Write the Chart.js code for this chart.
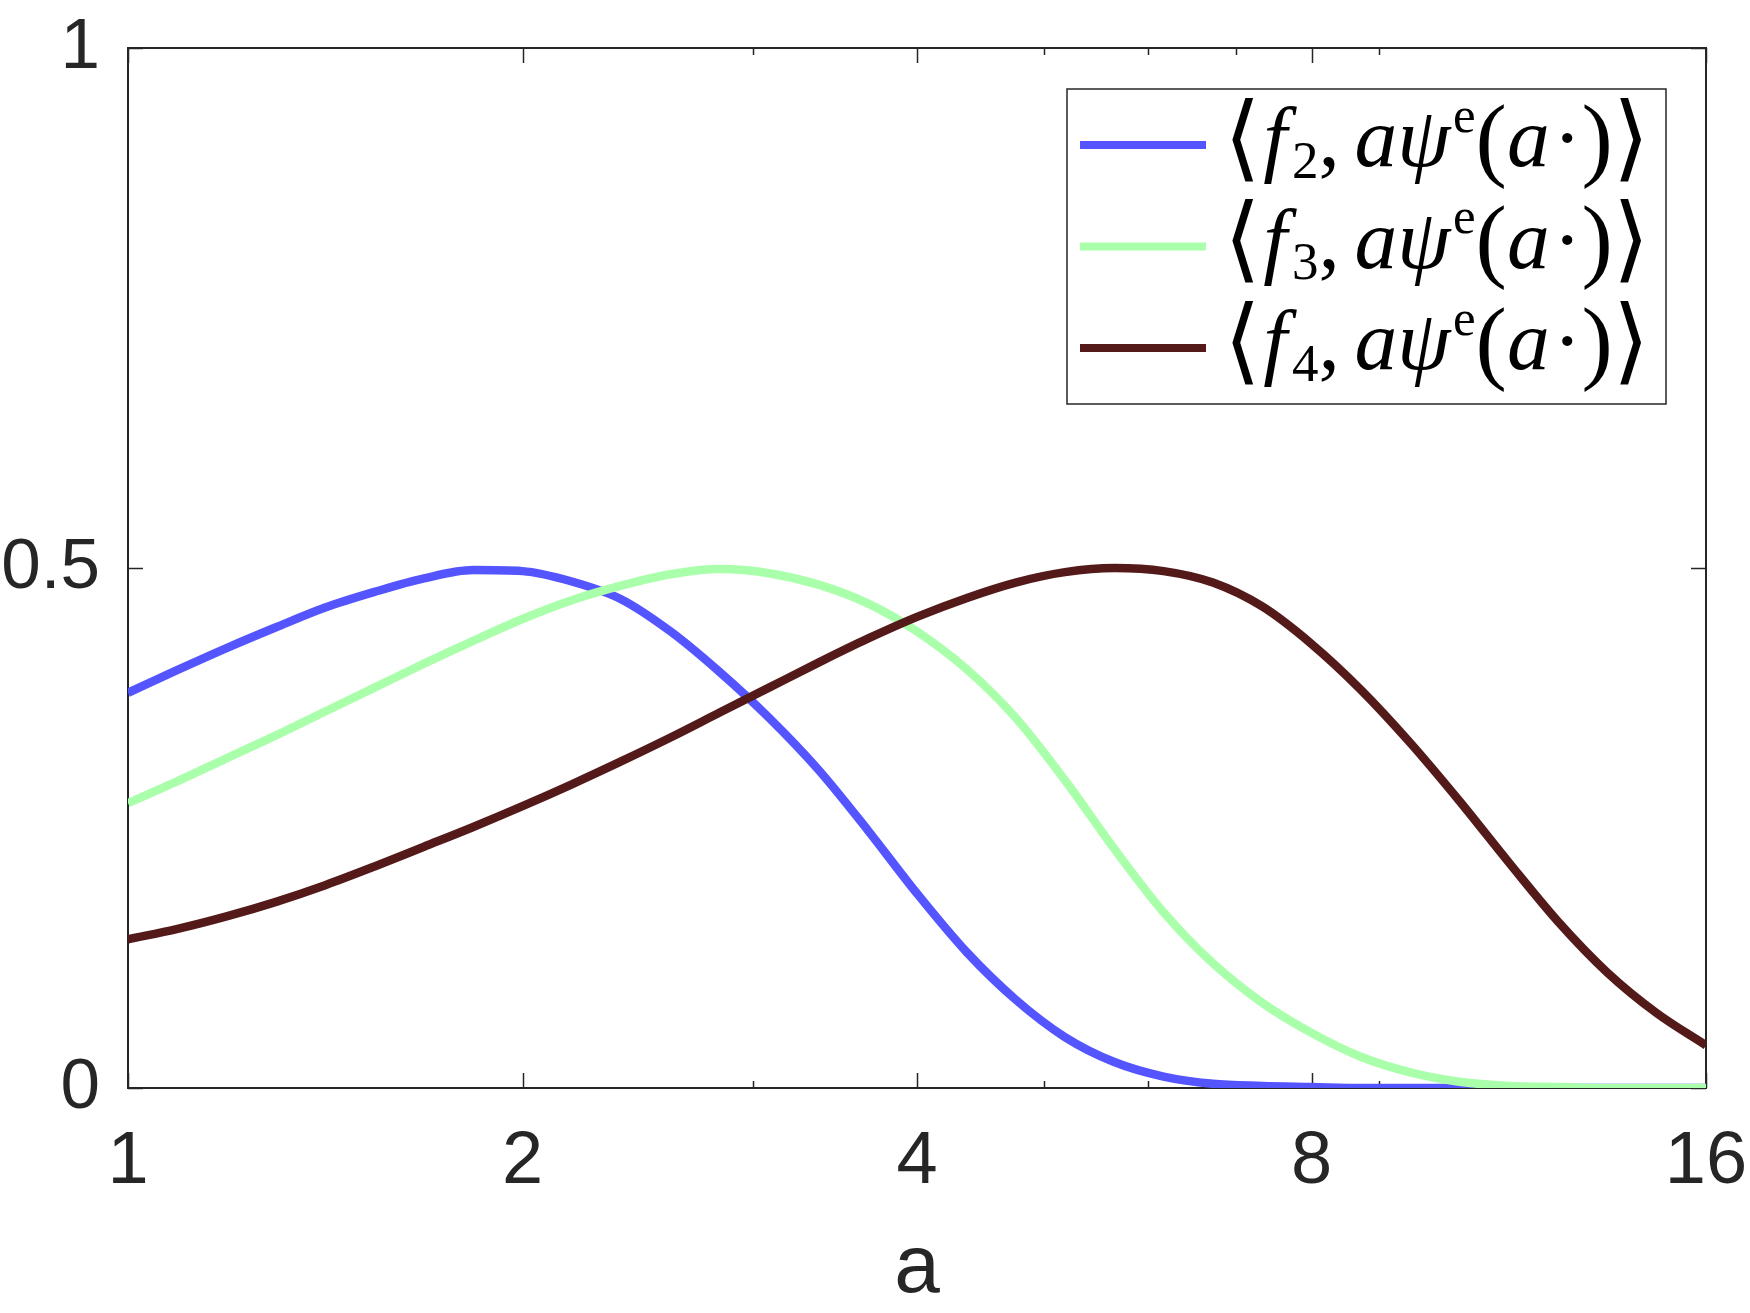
<!DOCTYPE html>
<html>
<head>
<meta charset="utf-8">
<script src="https://cdn.jsdelivr.net/npm/chart.js@4.4.0/dist/chart.umd.min.js"></script>
<style>
  html, body { margin: 0; padding: 0; background: #fff; }
  #wrap { width: 1750px; height: 1313px; }
</style>
</head>
<body>
<div id="wrap"><canvas id="myChart" width="1750" height="1313"></canvas></div>
<script>
// scale a, spaced 2^(k/8) from 1 to 16
var aValues = [1, 1.091, 1.189, 1.297, 1.414, 1.542, 1.682, 1.834, 2, 2.181, 2.378, 2.594, 2.828, 3.084, 3.364, 3.668,
    4, 4.362, 4.757, 5.187, 5.657, 6.169, 6.727, 7.336, 8, 8.724, 9.514, 10.375, 11.314, 12.338, 13.454, 14.672, 16];

// values
var f2Values = [0.380, 0.402, 0.423, 0.443, 0.462, 0.477, 0.490, 0.498, 0.497, 0.487, 0.470, 0.439, 0.400, 0.356, 0.306, 0.248,
    0.187, 0.131, 0.085, 0.049, 0.025, 0.011, 0.004, 0.002, 0.001, 0, 0, 0, 0, 0, 0, 0, 0];
var f3Values = [0.274, 0.295, 0.317, 0.339, 0.362, 0.385, 0.408, 0.430, 0.451, 0.469, 0.483, 0.494, 0.499, 0.495, 0.484, 0.466,
    0.439, 0.403, 0.356, 0.296, 0.230, 0.169, 0.120, 0.082, 0.053, 0.030, 0.015, 0.006, 0.002, 0.001, 0, 0, 0];
var f4Values = [0.143, 0.153, 0.165, 0.179, 0.195, 0.213, 0.232, 0.251, 0.271, 0.292, 0.314, 0.337, 0.361, 0.385, 0.409, 0.432,
    0.453, 0.471, 0.486, 0.496, 0.500, 0.497, 0.486, 0.463, 0.427, 0.383, 0.332, 0.276, 0.217, 0.160, 0.111, 0.072, 0.041];

var xTicks = [1, 2, 4, 8, 16];
var xMinorTicks = [3, 5, 6, 7, 9];
var yTicks = [0, 0.5, 1];
var seriesIndex = ['2', '3', '4'];

var axisColor = '#262626';
var sansFont = '"Liberation Sans", Arial, sans-serif';
var serifFont = '"Liberation Serif", "Times New Roman", serif';
var bracketFont = '"DejaVu Serif", "Liberation Serif", serif';

function points(ys) {
    var out = [];
    for (var i = 0; i < aValues.length; i++) {
        out.push({ x: aValues[i], y: ys[i] });
    }
    return out;
}

// box around the plot + ticks pointing inwards (like matlab)
var boxPlugin = {
    id: 'box',
    beforeDatasetsDraw: function (chart) {
        var c = chart.ctx, area = chart.chartArea;
        var xs = chart.scales.x, ys = chart.scales.y;
        c.save();
        c.strokeStyle = axisColor;
        c.lineWidth = 2;
        c.strokeRect(area.left, area.top, area.right - area.left, area.bottom - area.top);
        c.lineWidth = 1.5;
        c.beginPath();
        xTicks.concat(xMinorTicks).forEach(function (v) {
            var px = Math.round(xs.getPixelForValue(v)) + 0.5;
            var len = xTicks.indexOf(v) >= 0 ? 15 : 7;
            c.moveTo(px, area.bottom); c.lineTo(px, area.bottom - len);
            c.moveTo(px, area.top); c.lineTo(px, area.top + len);
        });
        yTicks.forEach(function (v) {
            var py = Math.round(ys.getPixelForValue(v)) + 0.5;
            c.moveTo(area.left, py); c.lineTo(area.left + 15, py);
            c.moveTo(area.right, py); c.lineTo(area.right - 15, py);
        });
        c.stroke();
        c.restore();
    }
};

function labelParts(n, s) {
    return [
        { t: '\u27E8', font: Math.round(s * 1.1) + 'px ' + bracketFont, dy: 0.03 * s, gap: 0.03 },
        { t: 'f', font: 'italic ' + s + 'px ' + serifFont, dy: 0, gap: 0.06 },
        { t: n, font: Math.round(s * 0.62) + 'px ' + serifFont, dy: 0.14 * s },
        { t: ',', font: s + 'px ' + serifFont, dy: 0, gap: 0.17 },
        { t: 'a\u03C8', font: 'italic ' + s + 'px ' + serifFont, dy: 0, gap: 0.03 },
        { t: 'e', font: Math.round(s * 0.6) + 'px ' + serifFont, dy: -0.4 * s },
        { t: '(', font: Math.round(s * 1.1) + 'px ' + serifFont, dy: 0.03 * s },
        { t: 'a', font: 'italic ' + s + 'px ' + serifFont, dy: 0, gap: 0.04 },
        { t: '\u00B7', font: s + 'px ' + serifFont, dy: 0 },
        { t: ')', font: Math.round(s * 1.1) + 'px ' + serifFont, dy: 0.03 * s },
        { t: '\u27E9', font: Math.round(s * 1.1) + 'px ' + bracketFont, dy: 0.03 * s }
    ];
}

function partsWidth(c, parts, s) {
    var w = 0;
    parts.forEach(function (p) {
        c.font = p.font;
        w += c.measureText(p.t).width + (p.gap || 0) * s;
    });
    return w;
}

// legend box drawn by hand so it can hold the sub/superscripts
var legendPlugin = {
    id: 'mathLegend',
    afterDraw: function (chart) {
        var c = chart.ctx;
        var bx = 1067, by = 89, bw = 599, bh = 315;
        c.save();
        c.fillStyle = '#fff';
        c.fillRect(bx, by, bw, bh);
        c.strokeStyle = axisColor;
        c.lineWidth = 1.5;
        c.strokeRect(bx, by, bw, bh);

        var size = 80;
        var w0 = partsWidth(c, labelParts('2', size), size);
        size = size * 426 / w0;

        chart.data.datasets.forEach(function (ds, i) {
            var ly = 145 + i * 101.5;
            c.strokeStyle = ds.borderColor;
            c.lineWidth = 8;
            c.beginPath();
            c.moveTo(1080, ly);
            c.lineTo(1206, ly);
            c.stroke();

            var x = 1224, base = ly + 21;
            c.fillStyle = '#000';
            c.textBaseline = 'alphabetic';
            c.textAlign = 'left';
            labelParts(seriesIndex[i], size).forEach(function (p) {
                c.font = p.font;
                c.fillText(p.t, x, base + p.dy);
                x += c.measureText(p.t).width + (p.gap || 0) * size;
            });
        });
        c.restore();
    }
};

var ctx = document.getElementById('myChart');
new Chart(ctx, {
    type: 'line',
    data: {
        datasets: [{
            label: '\u27E8f\u2082, a\u03C8\u1D49(a\u00B7)\u27E9',
            data: points(f2Values),
            borderColor: '#5555ff',
            order: 3
        }, {
            label: '\u27E8f\u2083, a\u03C8\u1D49(a\u00B7)\u27E9',
            data: points(f3Values),
            borderColor: '#aaffaa',
            order: 2
        }, {
            label: '\u27E8f\u2084, a\u03C8\u1D49(a\u00B7)\u27E9',
            data: points(f4Values),
            borderColor: '#541a1a',
            order: 1
        }]
    },
    options: {
        responsive: false,
        animation: false,
        layout: { padding: { top: 48, right: 44, left: 0, bottom: 0 } },
        elements: {
            point: { radius: 0 },
            line: { borderWidth: 8.5, cubicInterpolationMode: 'monotone', fill: false }
        },
        plugins: {
            legend: { display: false },
            tooltip: { enabled: false }
        },
        scales: {
            x: {
                type: 'logarithmic',
                min: 1,
                max: 16,
                afterBuildTicks: function (s) { s.ticks = xTicks.map(function (v) { return { value: v }; }); },
                afterFit: function (s) {
                    s.height = 225;
                    s.paddingLeft = 0;
                    s.paddingRight = 0;
                },
                grid: { display: false, drawTicks: false },
                border: { display: false },
                ticks: {
                    autoSkip: false,
                    maxRotation: 0,
                    padding: 30,
                    color: axisColor,
                    font: { family: sansFont, size: 74 },
                    callback: function (v) { return String(v); }
                },
                title: {
                    display: true,
                    text: 'a',
                    color: axisColor,
                    font: { family: sansFont, size: 82 },
                    padding: { top: 0, bottom: -6 }
                }
            },
            y: {
                min: 0,
                max: 1,
                afterBuildTicks: function (s) { s.ticks = yTicks.map(function (v) { return { value: v }; }); },
                afterFit: function (s) {
                    s.width = 128;
                    s.paddingTop = 0;
                    s.paddingBottom = 0;
                },
                grid: { display: false, drawTicks: false },
                border: { display: false },
                ticks: {
                    padding: 28,
                    color: axisColor,
                    font: { family: sansFont, size: 71 },
                    callback: function (v) { return String(v); }
                }
            }
        }
    },
    plugins: [boxPlugin, legendPlugin]
});
</script>
</body>
</html>
